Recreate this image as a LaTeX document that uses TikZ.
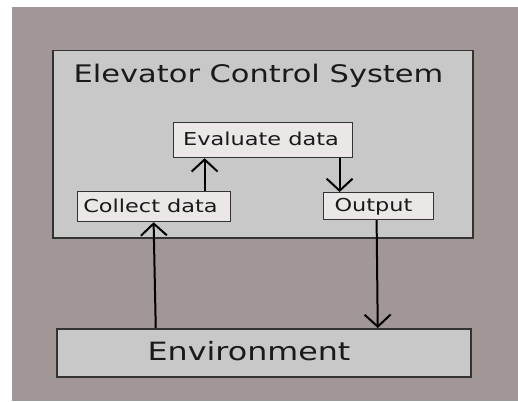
\documentclass[tikz,border=0pt]{standalone}
\usepackage{fontspec}
\setmainfont{DejaVu Sans}[FakeStretch=1.26]
\usetikzlibrary{arrows.meta}
\definecolor{bg}{HTML}{A09796}
\definecolor{boxfill}{HTML}{C8C8C8}
\definecolor{inner}{HTML}{EAE7E6}
\definecolor{edge}{HTML}{333333}
\definecolor{ink}{HTML}{1A1A1A}
\tikzset{
  bigbox/.style={draw=edge, line width=1.5pt, fill=boxfill, inner sep=0pt, anchor=north west},
  smallbox/.style={draw=edge, line width=1.2pt, fill=inner, inner sep=0pt, anchor=north west},
  titletext/.style={text=ink, font=\fontsize{24.2}{29}\selectfont, anchor=base, inner sep=0pt},
  envtext/.style={text=ink, font=\fontsize{25.2}{30}\selectfont, anchor=base, inner sep=0pt},
  smalltext/.style={text=ink, font=\fontsize{17.8}{21}\selectfont, anchor=base, inner sep=0pt},
  arr/.style={-{Straight Barb[length=12pt,width=26pt]}, line width=2pt, black}
}
\begin{document}
\begin{tikzpicture}[x=1pt,y=-1pt]
\useasboundingbox (0,0) rectangle (518,401);
\fill[white] (0,0) rectangle (518,401);
\fill[bg] (12,7) rectangle (518,401);
\node[bigbox, minimum width=420pt, minimum height=187pt] (sys) at (52,50) {};
\node[titletext] (title) at (258.5,83) {Elevator Control System};
\node[smallbox, minimum width=179pt, minimum height=35pt] (eval) at (173,122) {};
\node[smalltext] (evalt) at (261,145) {Evaluate data};
\node[smallbox, minimum width=153pt, minimum height=30pt] (collect) at (77,191) {};
\node[smalltext] (collectt) at (150.5,212) {Collect data};
\node[smallbox, minimum width=110pt, minimum height=27pt] (output) at (323,192) {};
\node[smalltext] (outputt) at (373.5,211.5) {Output};
\node[bigbox, minimum width=414pt, minimum height=48pt] (env) at (56,328) {};
\node[envtext] (envt) at (249,360) {Environment};
\draw[arr] ([xshift=50.5pt]collect.north) -- ([xshift=50.5pt]collect.north |- eval.south);
\draw[arr] ([xshift=76.5pt]eval.south) -- ([xshift=76.5pt]eval.south |- output.north);
\draw[arr] ([xshift=-108pt]env.north) -- ([xshift=-0.5pt]collect.south);
\draw[arr] ([xshift=-2pt]output.south) -- ([xshift=114pt]env.north);
\end{tikzpicture}
\end{document}
